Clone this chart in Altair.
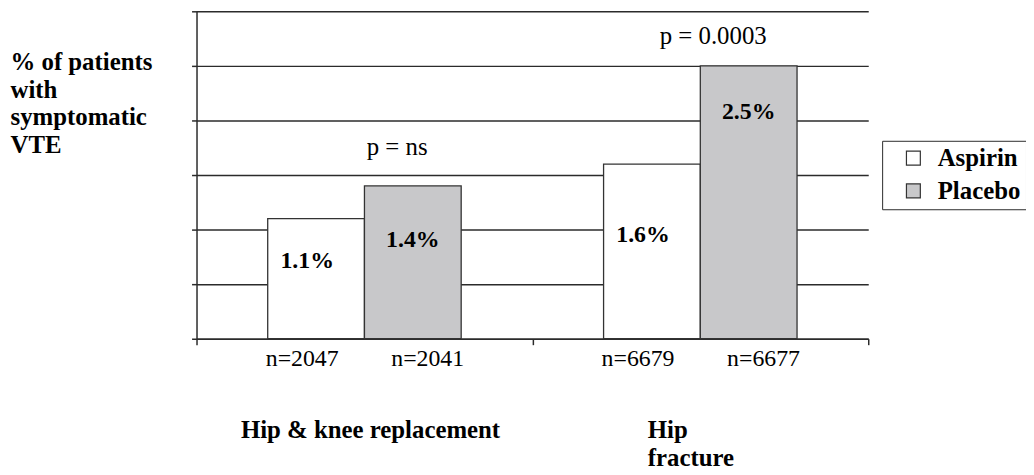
import altair as alt
import pandas as pd

# ---- data ----
groups = ["Hip & knee replacement", "Hip fracture"]
group_text = ["Hip & knee replacement", "Hip\nfracture"]
treatments = ["Aspirin", "Placebo"]
rates = [1.1, 1.4, 1.6, 2.5]                 # % with symptomatic VTE
patients = [2047, 2041, 6679, 6677]          # n per arm
label_heights = [0.71, 0.90, 0.95, 2.08]     # where the % labels sit (data units)
p_texts = ["p = ns", "p = 0.0003"]
p_heights = [1.68, 2.70]
y_ticks = [0, 0.5, 1, 1.5, 2, 2.5, 3]
y_title = ["% of patients", "with", "symptomatic", "VTE"]

FONT = "Liberation Serif"
LINE = "#2b2b2b"

rows = []
i = 0
for g in groups:
    for t in treatments:
        rows.append({
            "group": g, "treatment": t, "rate": rates[i],
            "n": f"n={patients[i]}", "label": f"{rates[i]}%",
            "label_y": label_heights[i],
        })
        i += 1
df = pd.DataFrame(rows)
p_df = pd.DataFrame({"group": groups, "ptext": p_texts, "py": p_heights})
g_df = pd.DataFrame({"group": groups, "gtext": group_text})

x_scale = alt.Scale(domain=groups, paddingInner=0, paddingOuter=0)
xo_scale = alt.Scale(domain=treatments, paddingInner=0, paddingOuter=0.736)
y_scale = alt.Scale(domain=[0, 3], nice=False, zero=True)

base = alt.Chart(df)

bars = base.mark_bar(stroke="#333333", strokeWidth=1.3).encode(
    x=alt.X("group:N", sort=groups, scale=x_scale,
            axis=alt.Axis(labels=False, title=None, tickBand="extent", tickSize=6,
                          tickColor=LINE, tickWidth=1.5, domainColor=LINE,
                          domainWidth=1.5, grid=False)),
    xOffset=alt.XOffset("treatment:N", sort=treatments, scale=xo_scale),
    y=alt.Y("rate:Q", scale=y_scale,
            axis=alt.Axis(values=y_ticks, labels=False, tickSize=5, tickColor=LINE,
                          tickWidth=1.5, domainColor=LINE, domainWidth=1.5,
                          grid=True, gridColor=LINE, gridWidth=1.5,
                          title=y_title, titleAngle=0, titleX=-188, titleY=58.5,
                          titleAlign="left", titleBaseline="alphabetic",
                          titleFont=FONT, titleFontSize=25, titleFontWeight="bold",
                          titleLineHeight=28, titleColor="black")),
    color=alt.Color("treatment:N", sort=treatments,
                    scale=alt.Scale(domain=treatments, range=["#ffffff", "#c8c8ca"]),
                    legend=alt.Legend(
                        title=None,
                        orient="none", legendX=691, legendY=130.5,
                        padding=5, symbolOffset=14, labelOffset=12, rowPadding=7,
                        symbolType="square", symbolSize=196,
                        symbolStrokeColor="#333333", symbolStrokeWidth=1.2,
                        labelFont=FONT, labelFontSize=25, labelFontWeight="bold",
                        labelColor="black", strokeColor=LINE, fillColor="white")),
)

def pct_layer(treat, dx):
    return base.transform_filter(alt.datum.treatment == treat).mark_text(
        font=FONT, fontSize=24, fontWeight="bold", baseline="middle", dx=dx,
        color="black").encode(
        x=alt.X("group:N", sort=groups, scale=x_scale),
        xOffset=alt.XOffset("treatment:N", sort=treatments, scale=xo_scale),
        y=alt.Y("label_y:Q", scale=y_scale),
        text="label:N")

def n_layer(treat, dx):
    return base.transform_filter(alt.datum.treatment == treat).mark_text(
        font=FONT, fontSize=24, baseline="alphabetic", dx=dx, color="black").encode(
        x=alt.X("group:N", sort=groups, scale=x_scale),
        xOffset=alt.XOffset("treatment:N", sort=treatments, scale=xo_scale),
        y=alt.value(357.5),
        text="n:N")

def p_layer(g, dx):
    return alt.Chart(p_df).transform_filter(alt.datum.group == g).mark_text(
        font=FONT, fontSize=25, baseline="alphabetic", dx=dx, color="black").encode(
        x=alt.X("group:N", sort=groups, scale=x_scale),
        y=alt.Y("py:Q", scale=y_scale),
        text="ptext:N")

def g_layer(g, dx):
    return alt.Chart(g_df).transform_filter(alt.datum.group == g).mark_text(
        font=FONT, fontSize=25, fontWeight="bold", baseline="alphabetic",
        align="left", dx=dx, lineBreak="\n", lineHeight=28, color="black").encode(
        x=alt.X("group:N", sort=groups, scale=x_scale),
        y=alt.value(430.5),
        text="gtext:N")

chart = alt.layer(
    bars,
    pct_layer("Aspirin", -9), pct_layer("Placebo", 0),
    n_layer("Aspirin", -14), n_layer("Placebo", 15),
    p_layer(groups[0], 33), p_layer(groups[1], 13),
    g_layer(groups[0], -124.5), g_layer(groups[1], -53),
).properties(
    width=677, height=330,
    background="white",
    autosize=alt.AutoSizeParams(type="none"),
    padding={"left": 190, "top": 1.5, "right": 159, "bottom": 135.5},
).configure_view(stroke=None)

chart.save("out.html", embed_options={"renderer": "svg", "actions": False})
